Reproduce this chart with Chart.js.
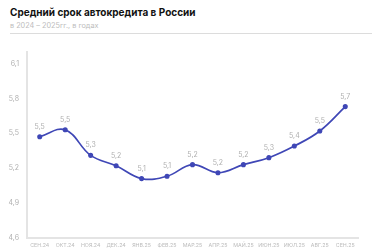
<!DOCTYPE html>
<html><head><meta charset="utf-8">
<script src="https://cdn.jsdelivr.net/npm/chart.js@4"></script>
<style>
html,body{margin:0;padding:0;background:#fff;width:377px;height:250px;overflow:hidden;font-family:Inter,"Noto Sans",sans-serif}
#t{position:absolute;left:10px;top:6px;font-weight:700;font-size:10px;color:#111;letter-spacing:0px}
#s{position:absolute;left:10px;top:21px;font-size:7.3px;color:#bcbcbc}
#sep{position:absolute;left:10px;top:33px;width:362px;height:1px;background:#dcdcdc}
#c{position:absolute;left:0;top:0}
</style></head><body>
<div id="t">Средний срок автокредита в России</div>
<div id="s">в 2024 – 2025гг., в годах</div>
<div id="sep"></div>
<canvas id="c" width="377" height="250"></canvas>
<script>
const categories = ["СЕН.24","ОКТ.24","НОЯ.24","ДЕК.24","ЯНВ.25","ФЕВ.25","МАР.25","АПР.25","МАЙ.25","ИЮН.25","ИЮЛ.25","АВГ.25","СЕН.25"];
const values = [5.47,5.53,5.31,5.22,5.11,5.13,5.23,5.16,5.23,5.29,5.39,5.52,5.73];
const yTicks = [4.6,4.9,5.2,5.5,5.8,6.1];

const labelPlugin = {
  id:'vlabels',
  afterDatasetsDraw(chart){
    const ctx = chart.ctx;
    const meta = chart.getDatasetMeta(0);
    ctx.save();
    ctx.font = '7px Inter, "Noto Sans", sans-serif';
    ctx.fillStyle = '#b0b0b0';
    ctx.textAlign = 'center';
    ctx.textBaseline = 'middle';
    meta.data.forEach((p,i)=>{
      ctx.fillText(values[i].toFixed(1).replace('.',','), p.x, p.y-10);
    });
    ctx.restore();
  }
};

new Chart(document.getElementById('c'),{
  type:'line',
  data:{labels:categories,datasets:[{
    data:values,borderColor:'#3f47b6',backgroundColor:'#3f47b6',borderWidth:1.7,
    pointRadius:1.7,pointHoverRadius:1.7,tension:0.4,fill:false
  }]},
  options:{
    responsive:false,animation:false,
    layout:{padding:{top:52,right:19,left:0,bottom:0}},
    plugins:{legend:{display:false},tooltip:{enabled:false}},
    scales:{
      x:{
        offset:true,
        grid:{display:false,drawTicks:false},
        border:{display:true,color:'#e4e4e4',width:2},
        ticks:{autoSkip:false,maxRotation:0,minRotation:0,padding:4,color:'#bcbcbc',font:{size:5.3,family:'Inter, "Noto Sans", sans-serif'}},
        afterFit(s){s.height=12;}
      },
      y:{
        min:4.6,max:6.2,
        grid:{display:false,drawTicks:false},
        border:{display:true,color:'#e4e4e4',width:2},
        afterBuildTicks(s){s.ticks=yTicks.map(v=>({value:v}));},
        ticks:{padding:8,color:'#b0b0b0',font:{size:7,family:'Inter, "Noto Sans", sans-serif'},
          callback:(v)=>Number(v).toFixed(1).replace('.',',')},
        afterFit(s){s.width=27;}
      }
    }
  },
  plugins:[labelPlugin]
});
</script>
</body></html>
